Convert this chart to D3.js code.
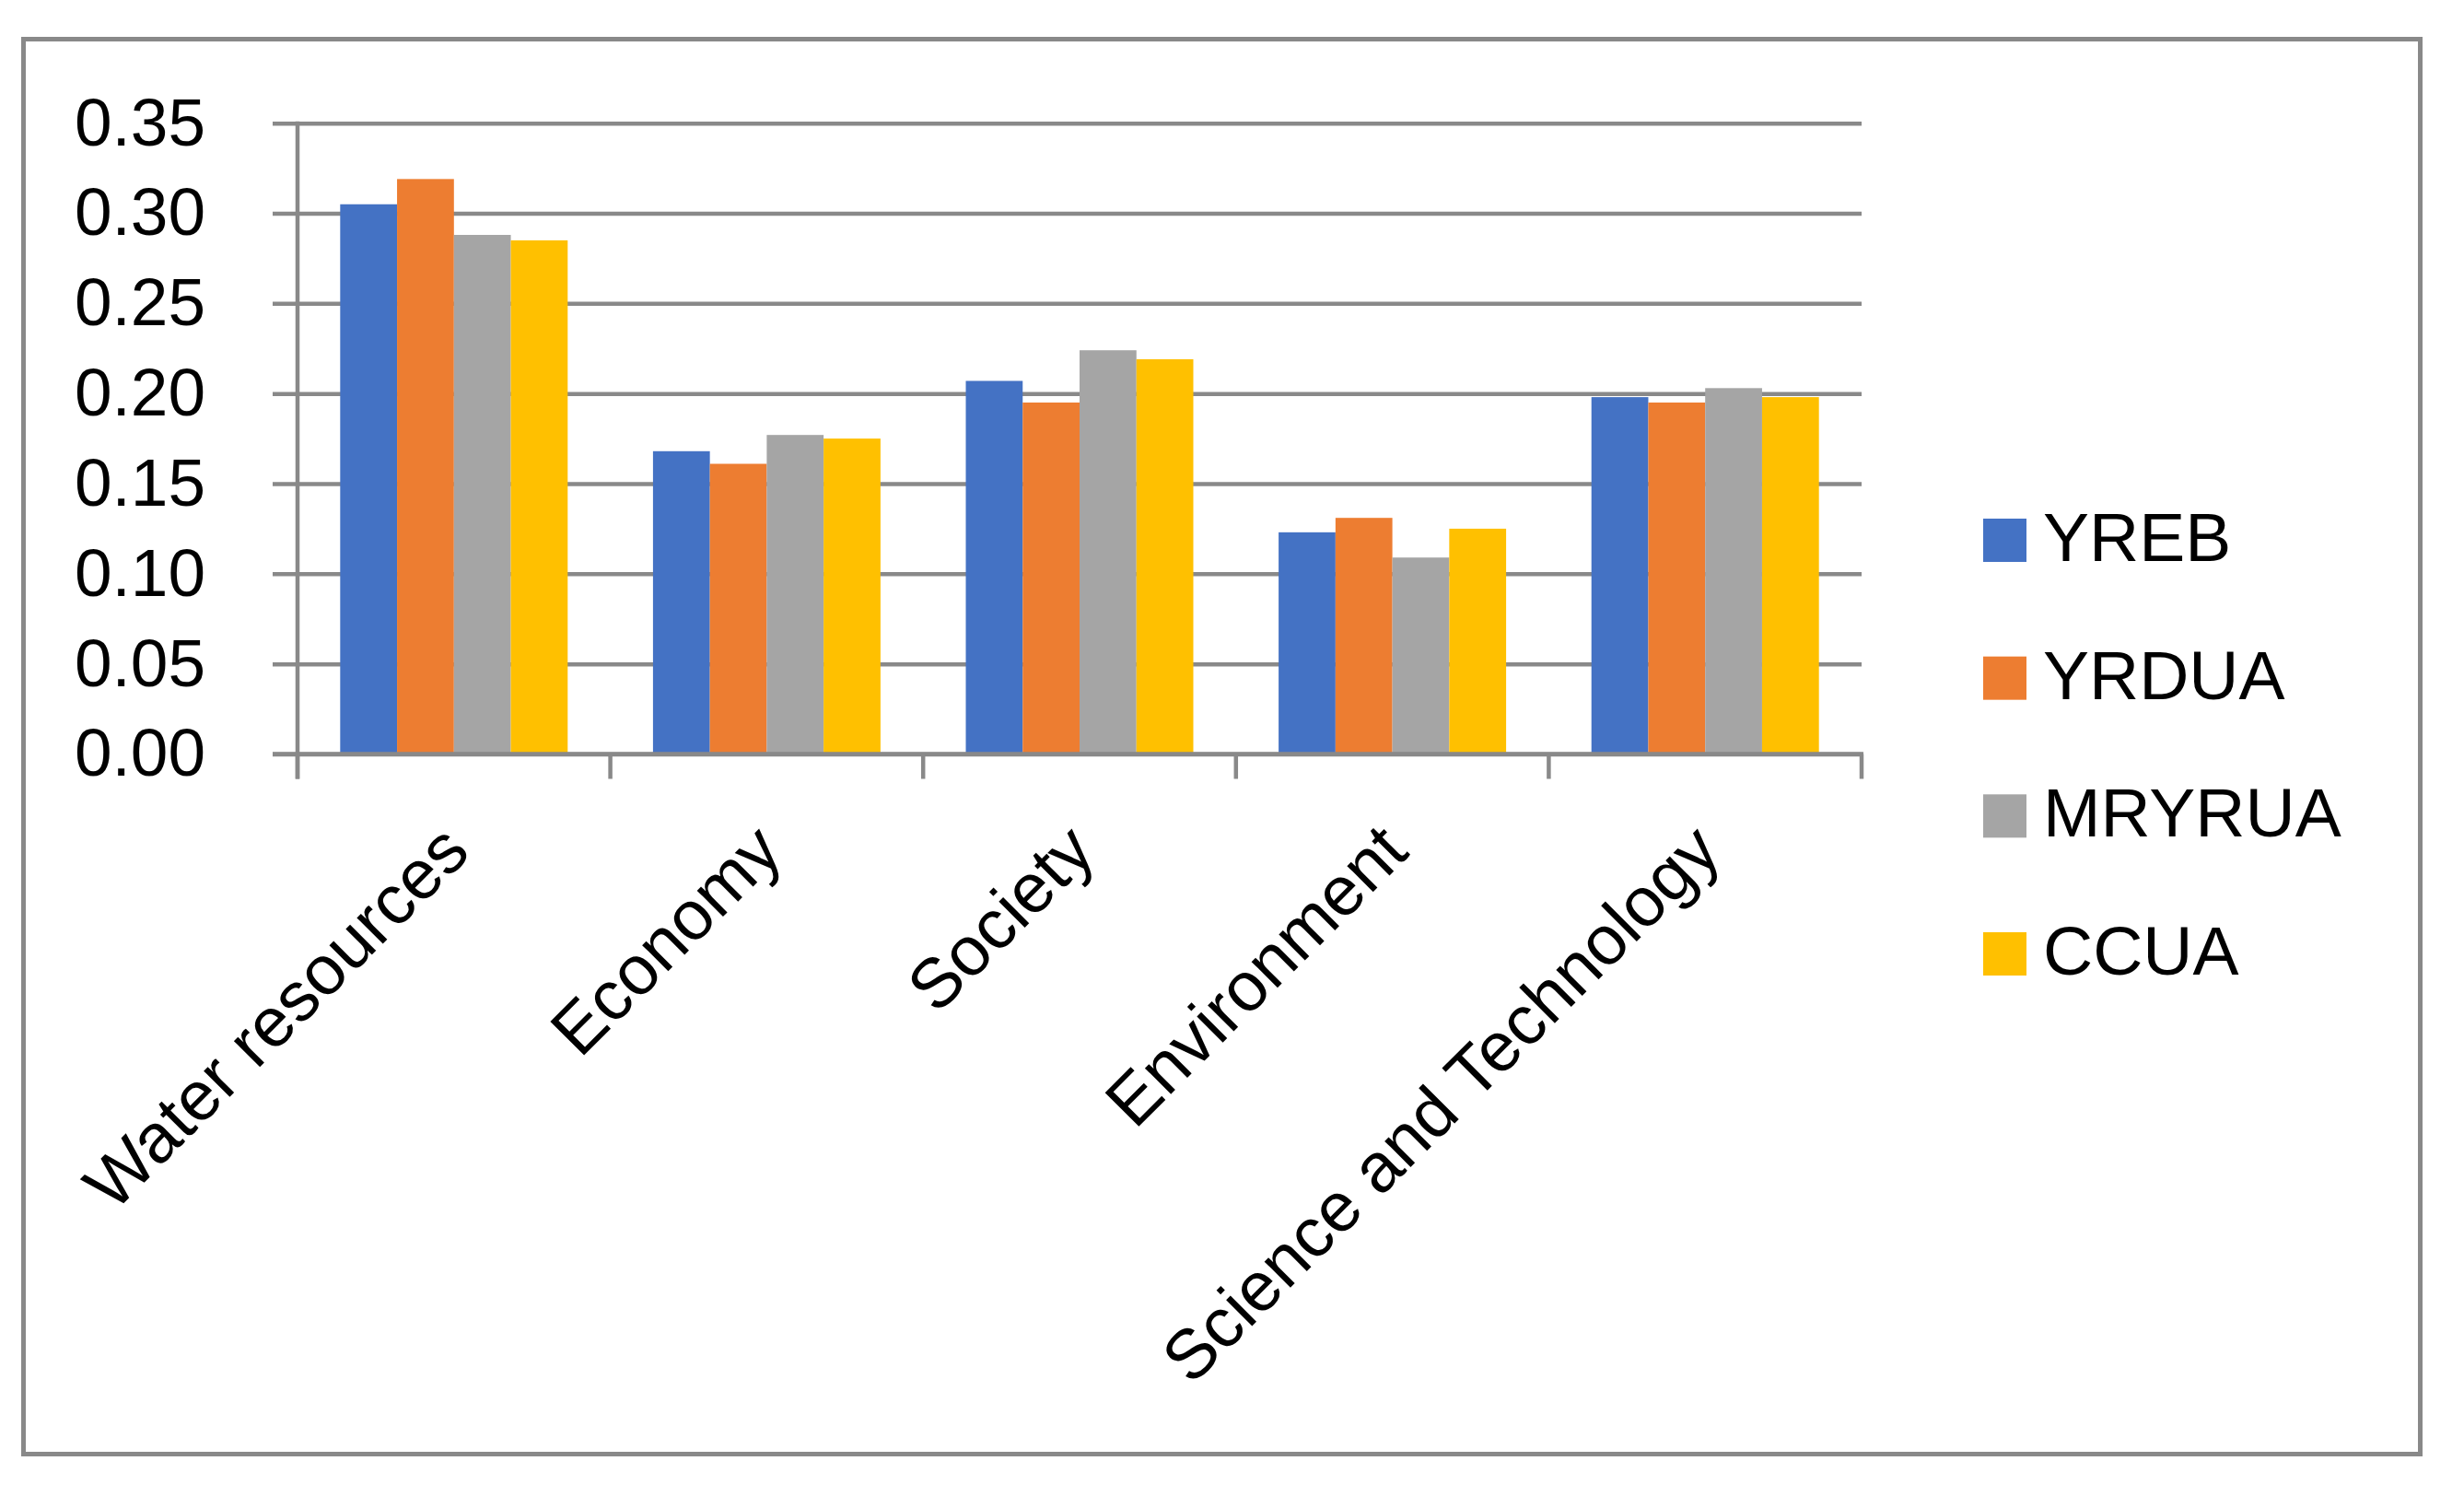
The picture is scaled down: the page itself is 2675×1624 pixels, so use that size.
<!DOCTYPE html>
<html>
<head>
<meta charset="utf-8">
<script src="https://cdn.jsdelivr.net/npm/d3@7"></script>
<style>
  html, body { margin: 0; padding: 0; background: #fff; }
  svg { display: block; }
  text { font-family: Arial, "Liberation Sans", sans-serif; fill: #000; }
</style>
</head>
<body>
<svg id="chart" width="2675" height="1624"></svg>
<script>
const categories = ["Water resources", "Economy", "Society", "Environment", "Science and Technology"];
const seriesNames = ["YREB", "YRDUA", "MRYRUA", "CCUA"];
const YREB   = [0.305, 0.168, 0.207, 0.123, 0.198];
const YRDUA  = [0.319, 0.161, 0.195, 0.131, 0.195];
const MRYRUA = [0.288, 0.177, 0.224, 0.109, 0.203];
const CCUA   = [0.285, 0.175, 0.219, 0.125, 0.198];
const seriesValues = [YREB, YRDUA, MRYRUA, CCUA];
const seriesColors = ["#4472C4", "#ED7D31", "#A5A5A5", "#FFC000"];
const yTicks = [0, 0.05, 0.10, 0.15, 0.20, 0.25, 0.30, 0.35];

const svg = d3.select("#chart");
const gridColor = "#898989";
const yFontSize = 73;
const xFontSize = 75.5;
const legendFontSize = 75;

// outer frame
svg.append("rect")
  .attr("x", 25.5).attr("y", 42.5)
  .attr("width", 2602).attr("height", 1536)
  .attr("fill", "none").attr("stroke", gridColor).attr("stroke-width", 5);

const plot = { left: 323, right: 2021, top: 133.7, bottom: 818.5 };

const x0 = d3.scaleBand().domain(categories).range([plot.left, plot.right]).padding(0);
const x1 = d3.scaleBand().domain(seriesNames).range([0, x0.bandwidth()]).paddingInner(0).paddingOuter(0.75);
const y = d3.scaleLinear().domain([0, 0.35]).range([plot.bottom, plot.top]);

// gridlines + y labels
const yAxis = d3.axisLeft(y).tickValues(yTicks).tickFormat(d3.format(".2f")).tickSizeOuter(0);
const gy = svg.append("g").attr("transform", `translate(${plot.left},0)`).call(yAxis);
gy.select(".domain").remove();
gy.selectAll(".tick line")
  .attr("x1", -27).attr("x2", plot.right - plot.left)
  .attr("stroke", gridColor).attr("stroke-width", 4.5);
gy.selectAll(".tick text")
  .attr("x", -100).attr("dy", "0.32em")
  .style("font-size", yFontSize + "px")
  .attr("text-anchor", "end");

// bars
const data = [];
categories.forEach((c, i) => {
  seriesNames.forEach((s, j) => {
    data.push({ cat: c, ser: s, value: seriesValues[j][i], color: seriesColors[j] });
  });
});
svg.append("g").selectAll("rect").data(data).join("rect")
  .attr("x", d => x0(d.cat) + x1(d.ser))
  .attr("y", d => y(d.value))
  .attr("width", x1.bandwidth())
  .attr("height", d => y(0) - y(d.value))
  .attr("fill", d => d.color);

// y axis line
svg.append("line")
  .attr("x1", plot.left).attr("x2", plot.left)
  .attr("y1", plot.top - 2).attr("y2", plot.bottom + 27)
  .attr("stroke", gridColor).attr("stroke-width", 4.5);

// x axis line
svg.append("line")
  .attr("x1", plot.left - 27).attr("x2", plot.right + 2)
  .attr("y1", plot.bottom).attr("y2", plot.bottom)
  .attr("stroke", gridColor).attr("stroke-width", 4.5);

// category boundary ticks
const bounds = categories.map(c => x0(c)).concat([x0(categories[categories.length - 1]) + x0.bandwidth()]);
svg.append("g").selectAll("line").data(bounds).join("line")
  .attr("x1", d => d).attr("x2", d => d)
  .attr("y1", plot.bottom).attr("y2", plot.bottom + 27)
  .attr("stroke", gridColor).attr("stroke-width", 4.5);

// category labels
const xAxis = d3.axisBottom(x0).tickSize(0);
const gx = svg.append("g").attr("transform", `translate(0,${plot.bottom})`).call(xAxis);
gx.select(".domain").remove();
gx.selectAll(".tick text")
  .style("font-size", xFontSize + "px")
  .attr("text-anchor", "end")
  .attr("y", 0).attr("dy", 0)
  .attr("transform", "translate(20,109) rotate(-45)");

// legend
const legend = svg.append("g");
const legY = d3.scalePoint().domain(seriesNames).range([586, 1035]);
seriesNames.forEach((s, j) => {
  legend.append("rect")
    .attr("x", 2153).attr("y", legY(s) - 23)
    .attr("width", 47).attr("height", 47)
    .attr("fill", seriesColors[j]);
  legend.append("text")
    .attr("x", 2218).attr("y", legY(s) + 23)
    .style("font-size", legendFontSize + "px")
    .text(s);
});
</script>
</body>
</html>
